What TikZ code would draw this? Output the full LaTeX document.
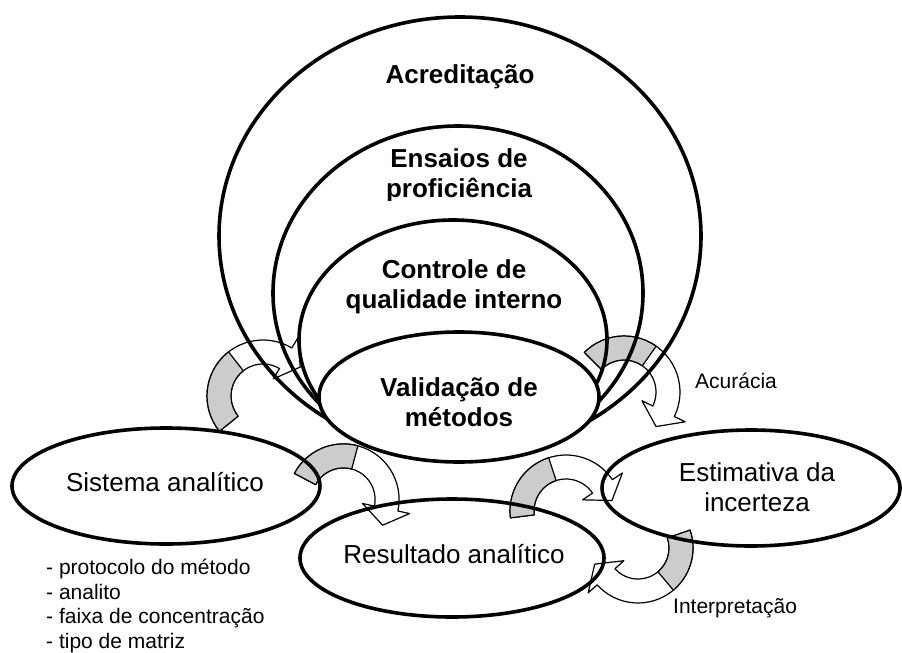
\documentclass[tikz,border=0pt]{standalone}
\usepackage{fontspec}
\setmainfont{Liberation Sans}
\usetikzlibrary{shapes.geometric}
\tikzset{
    ring/.style={ellipse, draw, line width=3.6pt, inner sep=0pt}
}
\tikzset{
    bigbold/.style={font=\fontsize{26}{29.5}\selectfont\bfseries, align=center, inner sep=0pt},
    bigtext/.style={font=\fontsize{26}{29.5}\selectfont, align=center, inner sep=0pt},
    smalltext/.style={font=\fontsize{21}{24.7}\selectfont, inner sep=0pt}
}
\tikzset{
    arrowbody/.style={fill=white, draw=black, line width=1.2pt, line join=round},
    arrowback/.style={fill=gray!40, draw=black, line width=1.2pt, line join=round}
}
\newcommand{\bentarrow}[5]{%
  \begin{scope}[shift={(#1)}]
    \filldraw[arrowbody]
      plot[domain=0:1, samples=30] ({(#2+12)*cos(#3+(#5-#3)*\x)}, {(#2+12)*sin(#3+(#5-#3)*\x)})
      -- ({(#2+24)*cos(#5)}, {(#2+24)*sin(#5)})
      -- ({#2*cos(#5)-17*sin(#5)}, {#2*sin(#5)+17*cos(#5)})
      -- ({(#2-24)*cos(#5)}, {(#2-24)*sin(#5)})
      -- plot[domain=0:1, samples=30] ({(#2-12)*cos(#5+(#3-#5)*\x)}, {(#2-12)*sin(#5+(#3-#5)*\x)})
      -- cycle;
    \filldraw[arrowback]
      plot[domain=0:1, samples=15] ({(#2+12)*cos(#3+(#4-#3)*\x)}, {(#2+12)*sin(#3+(#4-#3)*\x)})
      -- plot[domain=0:1, samples=15] ({(#2-12)*cos(#4+(#3-#4)*\x)}, {(#2-12)*sin(#4+(#3-#4)*\x)})
      -- cycle;
  \end{scope}%
}

\begin{document}
\begin{tikzpicture}[x=1pt, y=-1pt]
  \useasboundingbox (0,0) rectangle (902,653);

  \coordinate (ca) at (263,396);
  \coordinate (cb) at (343.5,499.5);
  \coordinate (cc) at (624,392);
  \coordinate (cd) at (566,511);
  \coordinate (ce) at (638,548);

  \bentarrow{ca}{44}{141}{232}{301}
  \bentarrow{cb}{43.6}{208}{285}{372}
  \bentarrow{cc}{44}{225}{305}{386}
  \bentarrow{cd}{44}{173}{252}{326}
  \bentarrow{ce}{43}{341}{410}{498}

  \node (acr) [ring, minimum width=482pt, minimum height=438pt] at (460,236) {};
  \node (ens) [ring, minimum width=370pt, minimum height=334pt] at (458,293) {};
  \node (cqi) [ring, minimum width=308pt, minimum height=240pt] at (453,340) {};
  \node (val) [ring, fill=white, minimum width=280pt, minimum height=130pt] at (459,397) {};
  \node (sis) [ring, minimum width=308pt, minimum height=116pt] at (166,486) {};
  \node (res) [ring, minimum width=304pt, minimum height=118pt] at (452,558) {};
  \node (est) [ring, minimum width=298pt, minimum height=116pt] at (751,488) {};

  \node (Ac) [bigbold, anchor=base] at (460,83) {Acreditação};
  \begin{scope}
    \clip (280,140) rectangle (640,200);
    \node (En) [bigbold] at (459,176) {Ensaios de\\proficiência};
  \end{scope}
  \node (Cq) [bigbold] at (454,287) {Controle de\\qualidade interno};
  \node (Va) [bigbold] at (459,402) {Validação de\\métodos};
  \node (Si) [bigtext, anchor=base] at (165,491) {Sistema analítico};
  \node (Re) [bigtext, anchor=base] at (454,563) {Resultado analítico};
  \node (Es) [bigtext] at (757,487) {Estimativa da\\incerteza};

  \node (Au) [smalltext, anchor=base west] at (695,388) {Acurácia};
  \node (In) [smalltext, anchor=base west] at (673,613) {Interpretação};
  \node (L1) [smalltext, anchor=base west] at (46,574) {- protocolo do método};
  \node (L2) [smalltext, anchor=base west] at (46,599) {- analito};
  \node (L3) [smalltext, anchor=base west] at (46,623.5) {- faixa de concentração};
  \node (L4) [smalltext, anchor=base west] at (46,648) {- tipo de matriz};
\end{tikzpicture}
\end{document}
